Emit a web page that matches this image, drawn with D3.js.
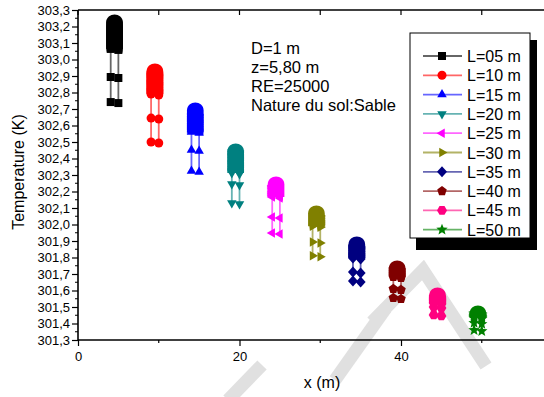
<!DOCTYPE html>
<html>
<head>
<meta charset="utf-8">
<script src="https://cdn.jsdelivr.net/npm/d3@7"></script>
<style>
body { margin: 0; background: #fff; }
svg { display: block; }
text { font-family: Arial, "Liberation Sans", sans-serif; }
</style>
</head>
<body>
<div id="chart"></div>
<script>
// ---------- data ----------
const labels = ["L=05 m","L=10 m","L=15 m","L=20 m","L=25 m","L=30 m","L=35 m","L=40 m","L=45 m","L=50 m"];
const lengths = [5,10,15,20,25,30,35,40,45,50];
const colors = ["#000000","#ff0000","#0000ff","#008080","#ff00ff","#808000","#000080","#800000","#ff0080","#008000"];
const shapes = ["square","circle","triUp","triDown","triLeft","triRight","diamond","pentagon","hexagon","star"];
// dense upper cluster of temperatures (K), per series
const blob0 = [303.064,303.071,303.078,303.085,303.092,303.099,303.106,303.113,303.120,303.127,303.134,303.141,303.148,303.155,303.162,303.169,303.176,303.183,303.190,303.197,303.204,303.211,303.218,303.225,303.233];
const blob1 = [302.791,302.798,302.805,302.812,302.819,302.826,302.833,302.840,302.847,302.854,302.861,302.868,302.875,302.882,302.889,302.896,302.903,302.910,302.917,302.924,302.930,302.936];
const blob2 = [302.561,302.568,302.575,302.582,302.589,302.596,302.603,302.610,302.617,302.624,302.631,302.638,302.645,302.652,302.659,302.666,302.673,302.680,302.687,302.694,302.700];
const blob3 = [302.312,302.319,302.326,302.333,302.340,302.347,302.354,302.361,302.368,302.375,302.382,302.389,302.396,302.403,302.410,302.417,302.424,302.431,302.438,302.445,302.452];
const blob4 = [302.167,302.174,302.181,302.188,302.195,302.202,302.209,302.216,302.223,302.230,302.237,302.244,302.252];
const blob5 = [301.990,301.997,302.004,302.011,302.018,302.025,302.032,302.039,302.046,302.053,302.060,302.067,302.076];
const blob6 = [301.797,301.804,301.811,301.818,301.825,301.832,301.839,301.846,301.853,301.860,301.867,301.874,301.881,301.888];
const blob7 = [301.682,301.689,301.696,301.703,301.710,301.717,301.724,301.731,301.737,301.742];
const blob8 = [301.524,301.531,301.538,301.545,301.552,301.559,301.566,301.573,301.579];
const blob9 = [301.433,301.440,301.447,301.454,301.461,301.466,301.470];
const blobs = [blob0,blob1,blob2,blob3,blob4,blob5,blob6,blob7,blob8,blob9];
// two lower isolated points per column
const lowA = [302.894,302.645,302.452,302.245,302.045,301.894,301.712,301.610,301.500,301.403];
const lowB = [302.742,302.500,302.324,302.130,301.948,301.810,301.658,301.555,301.452,301.360];
const colOffsets = [-0.95, 0];      // x of the two columns relative to L
const colShift = [0, -0.006];       // right column slightly lower
const yMajorTicks = d3.range(0, 21).map(i => +(301.3 + i * 0.1).toFixed(1));
const xMajorTicks = [0, 20, 40];
const xMinorTicks = [10, 30, 50];
const notes = ["D=1 m", "z=5,80 m", "RE=25000", "Nature du sol:Sable"];

// ---------- layout ----------
const W = 544, H = 397;
const svg = d3.select("#chart").append("svg").attr("width", W).attr("height", H);
const x = d3.scaleLinear().domain([0, 60]).range([78, 78 + 60 * 8.075]);
const y = d3.scaleLinear().domain([301.3, 303.3]).range([340, 10]);
const fmt = v => v.toFixed(1).replace(".", ",");

// symbol generators
function poly(n, r, rot) {
  const pts = [];
  for (let i = 0; i < n; i++) {
    const a = rot + i * 2 * Math.PI / n;
    pts.push([r * Math.cos(a), r * Math.sin(a)]);
  }
  return "M" + pts.map(p => p[0].toFixed(2) + "," + p[1].toFixed(2)).join("L") + "Z";
}
function starPath(R, r) {
  const pts = [];
  for (let i = 0; i < 10; i++) {
    const a = -Math.PI / 2 + i * Math.PI / 5;
    const rr = i % 2 ? r : R;
    pts.push([rr * Math.cos(a), rr * Math.sin(a)]);
  }
  return "M" + pts.map(p => p[0].toFixed(2) + "," + p[1].toFixed(2)).join("L") + "Z";
}
function symbolPath(s) {
  switch (s) {
    case "square": return "M-4,-4L4,-4L4,4L-4,4Z";
    case "circle": return d3.symbol(d3.symbolCircle, 64)();
    case "triUp": return poly(3, 5.5, -Math.PI / 2);
    case "triDown": return poly(3, 5.5, Math.PI / 2);
    case "triLeft": return poly(3, 5.5, Math.PI);
    case "triRight": return poly(3, 5.5, 0);
    case "diamond": return "M0,-5.5L5,0L0,5.5L-5,0Z";
    case "pentagon": return poly(5, 5, -Math.PI / 2);
    case "hexagon": return poly(6, 5, 0);
    case "star": return starPath(6, 2.6);
  }
}

// ---------- watermark ----------
const wm = svg.append("g").attr("fill", "none").attr("stroke", "#e0e0e0").attr("stroke-width", 13).attr("stroke-linejoin", "miter");
wm.append("polyline").attr("points", "335,380 386,308");
wm.append("polyline").attr("points", "372,322 423,270 486,366");
wm.append("polyline").attr("points", "228,400 262,365");

// ---------- axes ----------
const axG = svg.append("g").attr("stroke", "#000");
axG.append("line").attr("x1", 78).attr("x2", W).attr("y1", 340).attr("y2", 340).attr("stroke-width", 1.6);
axG.append("line").attr("x1", 78).attr("x2", W).attr("y1", 10).attr("y2", 10).attr("stroke-width", 1.6);
axG.append("line").attr("x1", 78).attr("x2", 78).attr("y1", 10).attr("y2", 340).attr("stroke-width", 1.6);

// left axis: major + minor ticks
const yMinor = d3.range(0, 20).map(i => 301.35 + i * 0.1);
svg.append("g").selectAll("line").data(yMinor).join("line")
  .attr("x1", 75).attr("x2", 78).attr("y1", d => y(d)).attr("y2", d => y(d))
  .attr("stroke", "#000").attr("stroke-width", 1);
const yAxis = d3.axisLeft(y).tickValues(yMajorTicks).tickFormat(fmt).tickSize(6).tickPadding(2);
const gy = svg.append("g").attr("transform", "translate(78,0)").call(yAxis);
gy.select(".domain").remove();
gy.selectAll("line").attr("stroke-width", 1.2);
gy.selectAll("text").attr("font-size", 13).attr("fill", "#000")
  .style("font-family", "Arial, 'Liberation Sans', sans-serif");

// bottom axis
const xAxis = d3.axisBottom(x).tickValues(xMajorTicks).tickFormat(d3.format("d")).tickSize(6).tickPadding(6);
const gx = svg.append("g").attr("transform", "translate(0,340)").call(xAxis);
gx.select(".domain").remove();
gx.selectAll("line").attr("stroke-width", 1.2);
gx.selectAll("text").attr("font-size", 13).attr("fill", "#000")
  .style("font-family", "Arial, 'Liberation Sans', sans-serif");
svg.append("g").selectAll("line").data(xMinorTicks).join("line")
  .attr("x1", d => x(d)).attr("x2", d => x(d)).attr("y1", 340).attr("y2", 343)
  .attr("stroke", "#000").attr("stroke-width", 1.2);
// top axis ticks (inward)
svg.append("g").selectAll("line").data(xMajorTicks.concat(xMinorTicks)).join("line")
  .attr("x1", d => x(d)).attr("x2", d => x(d)).attr("y1", 10).attr("y2", 15)
  .attr("stroke", "#000").attr("stroke-width", 1.2);

// axis titles
svg.append("text").attr("x", 322).attr("y", 388).attr("text-anchor", "middle")
  .attr("font-size", 16).text("x (m)");
svg.append("text").attr("transform", "translate(24,172) rotate(-90)").attr("text-anchor", "middle")
  .attr("font-size", 16).text("Temperature (K)");

// ---------- series ----------
const plot = svg.append("g");
lengths.forEach((L, i) => {
  const g = plot.append("g");
  // rounded cap of the dense cluster (overlapping markers merge into a bullet shape)
  const xl = x(L + colOffsets[0]) - 4.5, xr = x(L + colOffsets[1]) + 4.5;
  const yt = y(d3.max(blobs[i])) - 4.5, yb = y(d3.min(blobs[i]));
  const a = yt - 4.7;
  g.append("path")
    .attr("d", `M${xl},${yb}L${xl},${yt + 6}C${xl},${a} ${xr},${a} ${xr},${yt + 6}L${xr},${yb}Z`)
    .attr("fill", colors[i]);
  colOffsets.forEach((off, c) => {
    const temps = blobs[i].concat([lowA[i], lowB[i]]).map(t => t + colShift[c]).sort((a, b) => b - a);
    const pts = temps.map(t => [L + off, t]);
    g.append("path")
      .attr("d", d3.line().x(d => x(d[0])).y(d => y(d[1]))(pts))
      .attr("fill", "none").attr("stroke", colors[i]).attr("stroke-opacity", 0.6).attr("stroke-width", 1.8);
    g.selectAll("path.m" + c).data(pts.slice(2)).join("path")
      .attr("class", "m" + c)
      .attr("transform", d => `translate(${x(d[0])},${y(d[1])})`)
      .attr("d", symbolPath(shapes[i]))
      .attr("fill", colors[i]);
  });
});

// ---------- annotation ----------
const nt = svg.append("g");
notes.forEach((t, i) => {
  nt.append("text").attr("x", 251).attr("y", 54 + i * 19).attr("font-size", 16.5).text(t);
});

// ---------- legend ----------
const lg = svg.append("g");
lg.append("rect").attr("x", 416).attr("y", 40).attr("width", 121).attr("height", 210).attr("fill", "#000");
lg.append("rect").attr("x", 410).attr("y", 33).attr("width", 120).attr("height", 205)
  .attr("fill", "#fff").attr("stroke", "#000").attr("stroke-width", 1);
labels.forEach((lab, i) => {
  const yy = 56 + i * 19.3;
  lg.append("line").attr("x1", 423).attr("x2", 462).attr("y1", yy).attr("y2", yy)
    .attr("stroke", colors[i]).attr("stroke-opacity", 0.6).attr("stroke-width", 1.8);
  lg.append("path").attr("transform", `translate(442,${yy})`).attr("d", symbolPath(shapes[i])).attr("fill", colors[i]);
  lg.append("text").attr("x", 467).attr("y", yy + 6).attr("font-size", 16).text(lab);
});
</script>
</body>
</html>
